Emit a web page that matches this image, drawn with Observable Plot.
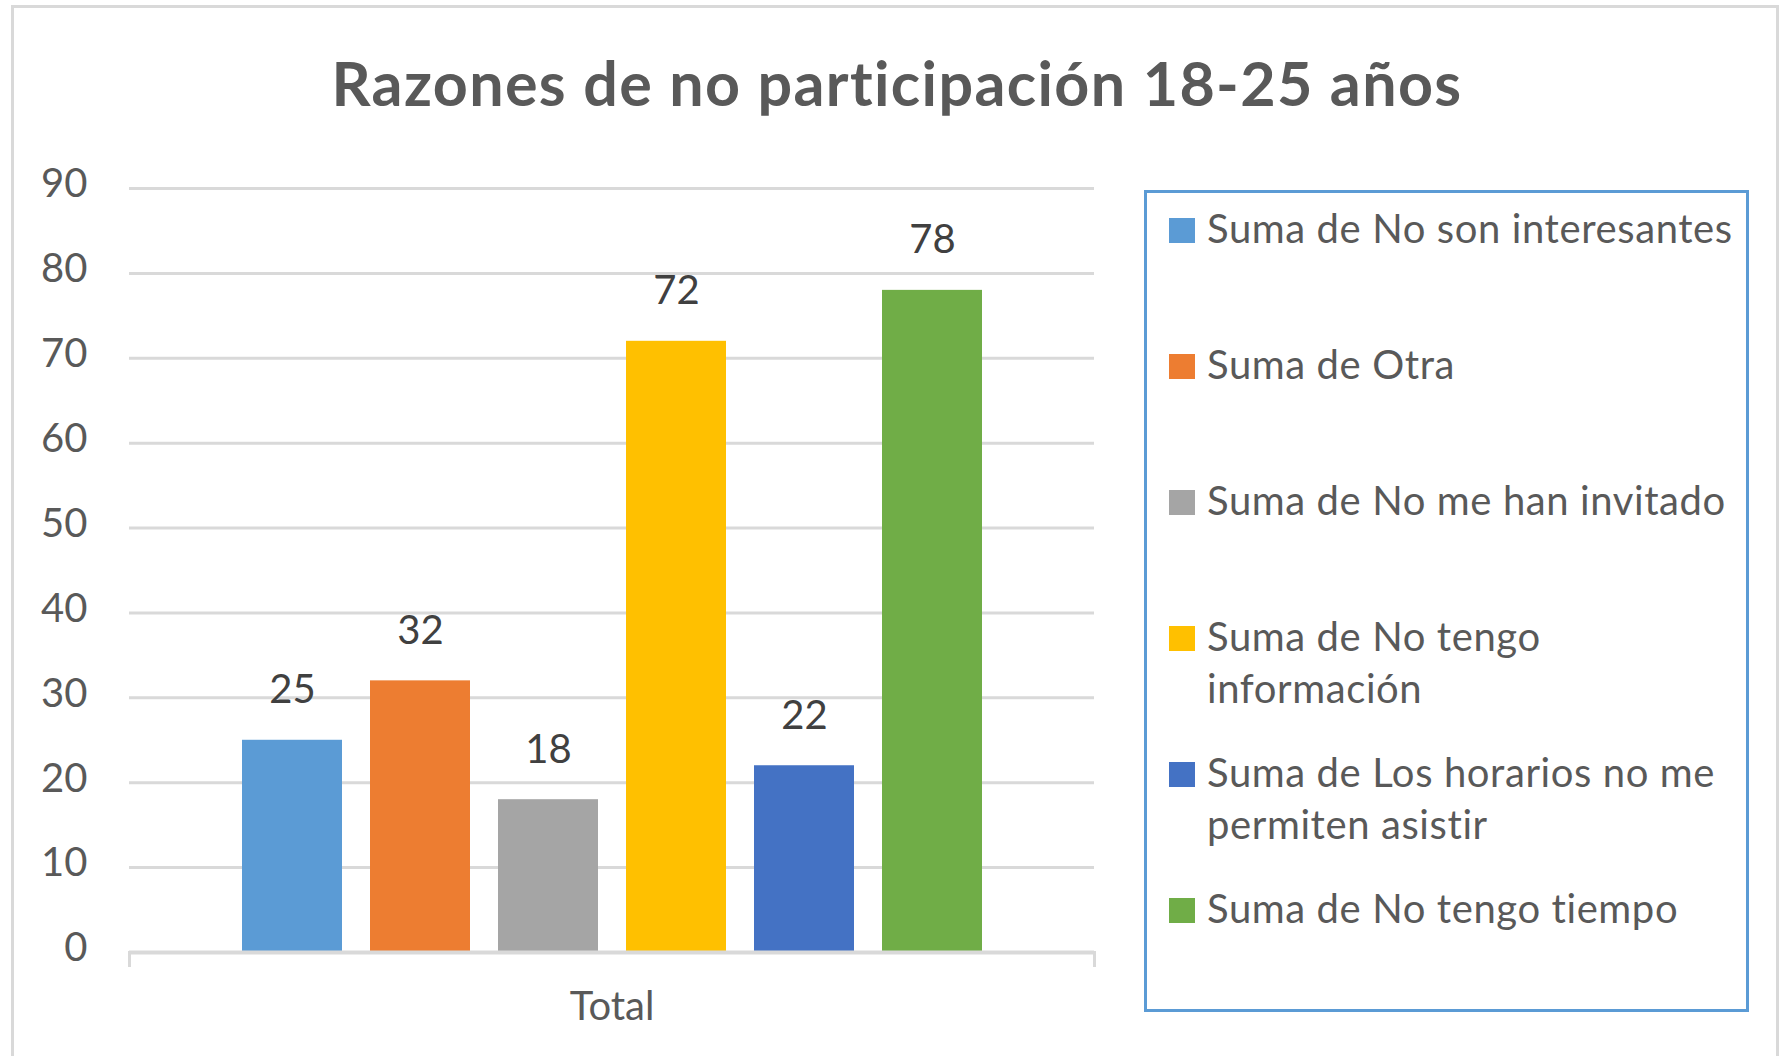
<!DOCTYPE html>
<html><head><meta charset="utf-8">
<script src="https://cdn.jsdelivr.net/npm/d3@7"></script>
<script src="https://cdn.jsdelivr.net/npm/@observablehq/plot@0.6"></script>
<style>
html,body{margin:0;padding:0;background:#fff;}
#root{position:relative;width:1781px;height:1056px;overflow:hidden;font-family:Lato,sans-serif;}
#outer{position:absolute;left:11px;top:5px;width:1762px;height:1100px;border:3px solid #D9D9D9;border-bottom:none;}
#title{position:absolute;left:0;width:1794px;top:52px;text-align:center;font-weight:bold;font-size:61px;line-height:61px;letter-spacing:1.35px;color:#595959;white-space:nowrap;}
#chart{position:absolute;left:0;top:0;}
#legend{position:absolute;left:1144px;top:190px;width:599px;height:807px;padding-top:9px;border:3px solid #5B9BD5;}
.item{position:relative;height:136px;padding-left:60px;width:540px;font-size:40px;line-height:52px;color:#595959;letter-spacing:0.6px;}
.sw{position:absolute;left:22px;top:16px;width:26px;height:25px;}
</style>
</head><body>
<div id="root">
  <div id="outer"></div>
  <div id="title"></div>
  <div id="chart"></div>
  <div id="legend"></div>
</div>
<script>
const title = "Razones de no participación 18-25 años";
const categories = ["Total"];
const series = [
  "Suma de No son interesantes",
  "Suma de Otra",
  "Suma de No me han invitado",
  "Suma de No tengo información",
  "Suma de Los horarios no me permiten asistir",
  "Suma de No tengo tiempo"
];
const values = [25, 32, 18, 72, 22, 78];
const colors = ["#5B9BD5", "#ED7D31", "#A5A5A5", "#FFC000", "#4472C4", "#70AD47"];
const yTicks = [0, 10, 20, 30, 40, 50, 60, 70, 80, 90];

const data = series.map((s, i) => ({category: categories[0], series: s, value: values[i]}));

document.getElementById("title").textContent = title;

const W = 1140, H = 1056, mL = 129, mR = 46, mT = 188, mB = 104;
const chart = Plot.plot({
  width: W, height: H,
  marginLeft: mL, marginRight: mR, marginTop: mT, marginBottom: mB,
  style: {fontFamily: "Lato, sans-serif", background: "transparent", overflow: "visible"},
  fx: {domain: categories, padding: 0, label: null},
  x: {domain: series, paddingInner: 0.22, paddingOuter: 0.874, axis: null},
  y: {domain: [0, 90], axis: null},
  color: {domain: series, range: colors},
  marks: [
    Plot.gridY(yTicks, {stroke: "#D9D9D9", strokeOpacity: 1, strokeWidth: 3}),
    Plot.axisY(yTicks, {tickSize: 0, tickPadding: 42, fontSize: 40, color: "#595959", dy: -4, label: null}),
    Plot.barY(data, {fx: "category", x: "series", y: "value", fill: "series"}),
    Plot.ruleY([0], {stroke: "#D9D9D9", strokeWidth: 4}),
    Plot.frame({anchor: "left", stroke: "#D9D9D9", strokeWidth: 3, insetTop: H - mT - mB, insetBottom: -13}),
    Plot.frame({anchor: "right", stroke: "#D9D9D9", strokeWidth: 3, insetTop: H - mT - mB, insetBottom: -13}),
    Plot.text(data, {fx: "category", x: "series", y: "value", text: d => String(d.value), dy: -50, fontSize: 40, fill: "#404040"}),
    Plot.axisFx({anchor: "bottom", tickSize: 0, tickPadding: 39, fontSize: 40, color: "#595959", label: null})
  ]
});
document.getElementById("chart").appendChild(chart);

const legend = document.getElementById("legend");
series.forEach((s, i) => {
  const item = document.createElement("div");
  item.className = "item";
  const sw = document.createElement("div");
  sw.className = "sw";
  sw.style.background = colors[i];
  item.appendChild(sw);
  item.appendChild(document.createTextNode(s));
  legend.appendChild(item);
});
</script>
</body></html>
